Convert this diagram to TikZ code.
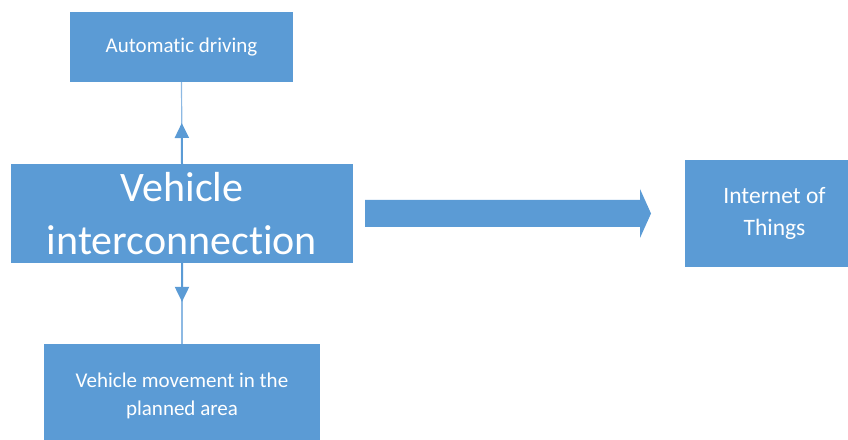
\documentclass[tikz,border=0pt]{standalone}
\usepackage{fontspec}
\setmainfont{Carlito}[Ligatures=NoCommon]
\usetikzlibrary{arrows.meta,calc}
\definecolor{obl}{HTML}{5B9BD5}
\definecolor{oblline}{HTML}{5B9BD5}
\definecolor{obllight}{HTML}{8DB9E3}
\begin{document}
\begin{tikzpicture}[x=1bp,y=-1bp,
  box/.style={fill=obl, text=white, inner sep=0pt, align=center},
  thinconn/.style={draw=obllight, line width=1.2bp},
  thickconn/.style={draw=oblline, line width=2bp, -{Triangle[width=14bp,length=15bp]}}]
\useasboundingbox (0,0) rectangle (848,440);
\node[box, minimum width=223bp, minimum height=70bp, font=\fontsize{21bp}{26bp}\selectfont] (ad) at (181.5,47) {Automatic driving};
\node[box, minimum width=342bp, minimum height=99bp, font=\fontsize{42bp}{53bp}\selectfont] (vi) at (182,213.5) {Vehicle\\interconnection};
\node[box, minimum width=276bp, minimum height=104bp, font=\fontsize{21bp}{28bp}\selectfont] (vm) at (182,396) {Vehicle movement in the\\planned area};
\node[box, minimum width=179bp, minimum height=107bp, font=\fontsize{23.5bp}{32bp}\selectfont] (iot) at (774.5,213.5) {Internet of\\Things};
% connectors
\draw[thinconn] (vi.north) -- (ad.south);
\draw[thickconn] (vi.north) -- ($(vi.north)!0.5!(ad.south)$);
\draw[thinconn] (vi.south) -- (vm.north);
\draw[thickconn] (vi.south) -- ($(vi.south)!0.48!(vm.north)$);
% big arrow
\fill[obl] (365,200) -- (640,200) -- (640,189) -- (651,213.5) -- (640,238) -- (640,227) -- (365,227) -- cycle;
\end{tikzpicture}
\end{document}
